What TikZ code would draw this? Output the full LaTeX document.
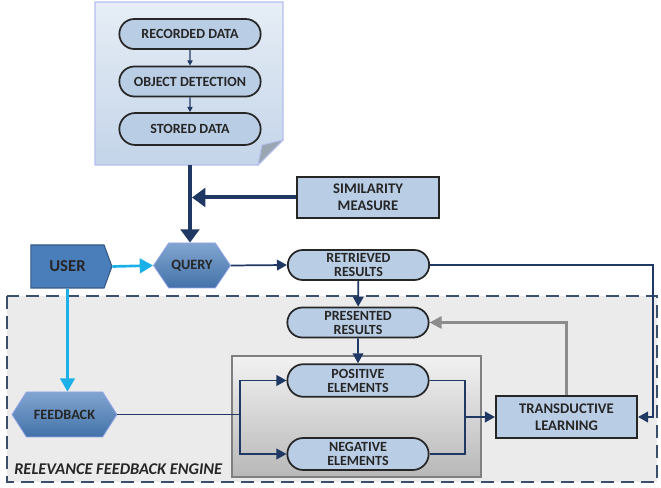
\documentclass[tikz,border=0pt]{standalone}
\usepackage{fontspec}
\setmainfont{Carlito}
\usetikzlibrary{arrows.meta}
\usetikzlibrary{shapes.misc}
\usetikzlibrary{shapes.symbols}
\definecolor{pillblue}{RGB}{185,205,229}
\definecolor{navyline}{RGB}{32,56,100}
\definecolor{cyanline}{RGB}{28,176,232}
\definecolor{userblue}{RGB}{74,126,187}
\definecolor{engineframe}{RGB}{58,79,106}
\definecolor{textdark}{RGB}{38,38,38}

\begin{document}
\begin{tikzpicture}[x=0.75pt,y=0.75pt,yscale=-1,xscale=1,
  pill/.style={rounded rectangle,draw=black!85,line width=1.3pt,fill=pillblue,
    minimum width=106pt,minimum height=22.5pt,inner sep=0pt,align=center,
    text=textdark,font=\fontsize{10.5}{10.5}\selectfont\bfseries},
  blockbox/.style={rectangle,draw=black!85,line width=1.3pt,fill=pillblue,
    minimum width=106pt,minimum height=31pt,inner sep=0pt,align=center,
    text=textdark,font=\fontsize{11}{13}\selectfont\bfseries},
  hexbox/.style={signal,signal to=east and west,signal pointer angle=112,
    draw=pillblue!80!blue,line width=0.6pt,top color=pillblue!50!userblue,bottom color=userblue!90!black,
    minimum height=33.75pt,inner sep=0pt,text=textdark,font=\fontsize{10.7}{12}\selectfont\bfseries},
  navyarrow/.style={draw=navyline,line width=1.3pt,-{Triangle[length=7.5pt,width=8pt]}},
  navyline/.style={draw=navyline,line width=1.3pt},
  thickarrow/.style={draw=navyline,line width=3pt,-{Triangle[length=10pt,width=14pt]}},
  cyanarrow/.style={draw=cyanline,line width=2pt,-{Triangle[length=10pt,width=11pt]}},
  grayarrow/.style={draw=black!45,line width=2pt,-{Triangle[length=9pt,width=9pt]}}]
\useasboundingbox (0,0) rectangle (661,488);

%Shape: Dashed engine frame
\draw [engineframe,line width=1.6pt,dash pattern={on 10pt off 5pt},fill=black!8] (7,296) rectangle (657,482) ;
%Shape: Inner element box
\draw [black!50,line width=0.8pt,top color=black!5,bottom color=black!28] (232,356) rectangle (481,477) ;
%Shape: Data page
\draw [pillblue!80!blue!70,line width=0.8pt,top color=pillblue!35,bottom color=pillblue!85] (95,2) -- (283,2) -- (283,140) -- (258,165) -- (95,165) -- cycle ;
%Shape: Folded corner
\draw [pillblue!80!blue!70,line width=0.6pt,fill=pillblue!70!black!80] (258,165) -- (262,145) -- (283,140) -- cycle ;

% Page nodes
\node [pill] (recorded) at (190,34) {RECORDED DATA};
\node [pill] (detection) at (190,81.5) {OBJECT DETECTION};
\node [pill,minimum height=24pt] (stored) at (190,129) {STORED DATA};
\coordinate (pagebottom) at (190,165);

% Query side
\node [blockbox] (similarity) at (368,197.5) {SIMILARITY\\MEASURE};
\node [hexbox,minimum width=57.75pt] (query) at (192,265.5) {QUERY};
\node [signal,signal to=east,signal pointer angle=140,draw=userblue!70!black,line width=0.8pt,fill=userblue,
  minimum width=60.75pt,minimum height=32.25pt,inner sep=0pt,text=textdark,
  font=\fontsize{12.5}{14}\selectfont\bfseries] (user) at (67.5,266.5) {USER};
\node [pill] (retrieved) at (358.5,265) {RETRIEVED\\RESULTS};
\coordinate (rightturn) at (653,265);

% Engine nodes
\node [pill] (presented) at (358,322.5) {PRESENTED\\RESULTS};
\node [pill,minimum height=24.5pt] (positive) at (358,380.5) {POSITIVE\\ELEMENTS};
\node [pill,minimum height=24pt] (negative) at (358,454) {NEGATIVE\\ELEMENTS};
\node [hexbox,minimum width=78.75pt,signal pointer angle=115] (feedback) at (64.5,414.5) {FEEDBACK};
\node [blockbox,minimum height=31.5pt] (transductive) at (566.5,417) {TRANSDUCTIVE\\LEARNING};
\coordinate (split) at (240,414.5);
\coordinate (merge) at (465,417);

% Text Node
\draw (13,469) node [anchor=west,inner sep=0.75pt,text=textdark,font=\fontsize{12.3}{14}\selectfont\bfseries\itshape] {RELEVANCE FEEDBACK ENGINE};

%Connectors
\draw [navyarrow,line width=0.9pt,-{Triangle[length=4pt,width=4pt]}] (recorded) -- (detection) ;
\draw [navyarrow,line width=0.9pt,-{Triangle[length=4pt,width=4pt]}] (detection) -- (stored) ;
\draw [thickarrow] (pagebottom) -- (pagebottom |- query.north) ;
\draw [thickarrow] (similarity.west) -- ([xshift=1.5pt]similarity.west -| pagebottom) ;
\draw [cyanarrow] (user.east) -- (query.west) ;
\draw [cyanarrow] (user.south) -- (user.south |- feedback.north) ;
\draw [navyarrow] (query.east) -- (retrieved.west) ;
\draw [navyarrow] (retrieved.east) -- (rightturn) |- (transductive.east) ;
\draw [navyarrow] (retrieved) -- (presented) ;
\draw [navyarrow] (presented) -- (positive) ;
\draw [navyline] (feedback.east) -- (split) ;
\draw [navyarrow] (split) |- (positive.west) ;
\draw [navyarrow] (split) |- (negative.west) ;
\draw [navyline] (positive.east) -| (merge) ;
\draw [navyline] (negative.east) -| (merge) ;
\draw [navyarrow] (merge) -- (transductive.west) ;
\draw [grayarrow] (transductive.north) |- (presented.east) ;

\end{tikzpicture}
\end{document}
